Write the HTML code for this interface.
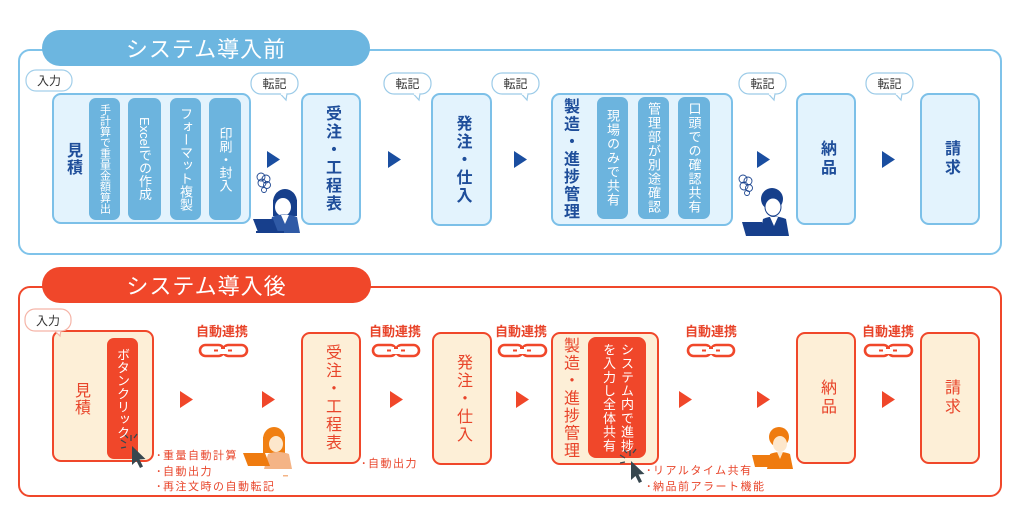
<!DOCTYPE html>
<html><head><meta charset="utf-8">
<style>
*{margin:0;padding:0;box-sizing:border-box}
body{width:1024px;height:512px;background:#fff;overflow:hidden;font-family:"Liberation Sans","Noto Sans CJK JP",sans-serif;}
#c{position:relative;width:1024px;height:512px}
.a{position:absolute}
.fc{position:absolute;display:flex;align-items:center;justify-content:center}
.v{writing-mode:vertical-rl;white-space:nowrap}
.bl{color:#1f4e9a;font-weight:bold;font-size:16px}
.rd{color:#e8442a;font-weight:normal;font-size:16px}
.wt{color:#fff;font-size:13px}
.pill{color:#fff;font-size:22px;letter-spacing:1px}
.bub{font-size:12px;color:#333}
.ren{color:#e8442a;font-weight:bold;font-size:13px;white-space:nowrap}
.bul{color:#e8442a;font-size:11px;letter-spacing:1.5px;line-height:15.5px;white-space:nowrap}
</style></head><body><div id="c">
<svg class="a" style="left:0;top:0" width="1024" height="512" xmlns="http://www.w3.org/2000/svg">
<!-- TOP -->
<rect x="19" y="50" width="982" height="204" rx="11" fill="none" stroke="#7fc3ea" stroke-width="2"/>
<rect x="42" y="30" width="328" height="36" rx="18" fill="#6cb6e0"/>
<g fill="#e3f3fd" stroke="#7cc0e8" stroke-width="2">
<rect x="53" y="94" width="197" height="129" rx="8"/>
<rect x="302" y="94" width="58" height="130" rx="8"/>
<rect x="432" y="94" width="59" height="131" rx="8"/>
<rect x="552" y="94" width="180" height="131" rx="8"/>
<rect x="797" y="94" width="58" height="130" rx="8"/>
<rect x="921" y="94" width="58" height="130" rx="8"/>
</g>
<g fill="#6cb4de">
<rect x="89" y="98" width="31" height="122" rx="7"/>
<rect x="128" y="98" width="33" height="122" rx="7"/>
<rect x="170" y="98" width="31" height="122" rx="7"/>
<rect x="209" y="98" width="32" height="122" rx="7"/>
<rect x="597" y="97" width="31" height="122" rx="7"/>
<rect x="638" y="97" width="31" height="122" rx="7"/>
<rect x="678" y="97" width="32" height="122" rx="7"/>
</g>
<g fill="#1a4ea0">
<polygon points="267,151 280,159.5 267,168"/>
<polygon points="388,151 401,159.5 388,168"/>
<polygon points="514,151 527,159.5 514,168"/>
<polygon points="757,151 770,159.5 757,168"/>
<polygon points="882,151 895,159.5 882,168"/>
</g>
<!-- top bubbles -->
<rect x="26" y="70" width="46" height="21" rx="10" fill="#fff" stroke="#a3cfea" stroke-width="1.2"/>
<g fill="#fff" stroke="#9ccbe8" stroke-width="1.2">
<rect x="251" y="73" width="47" height="21" rx="10"/>
<path d="M280,93.5 L286,100 L287,93.5"/>
<rect x="384" y="73" width="47" height="21" rx="10"/>
<path d="M413,93.5 L419,100 L420,93.5"/>
<rect x="492" y="73" width="47" height="21" rx="10"/>
<path d="M521,93.5 L527,100 L528,93.5"/>
<rect x="739" y="73" width="47" height="21" rx="10"/>
<path d="M768,93.5 L774,100 L775,93.5"/>
<rect x="866" y="73" width="47" height="21" rx="10"/>
<path d="M895,93.5 L901,100 L902,93.5"/>
</g>
<g stroke="#fff" stroke-width="1.6">
<path d="M280.8,94 L286.2,94"/><path d="M413.8,94 L419.2,94"/><path d="M521.8,94 L527.2,94"/><path d="M768.8,94 L774.2,94"/><path d="M895.8,94 L901.2,94"/>
</g>
<!-- top woman -->
<g fill="none" stroke="#1d4690" stroke-width="0.9">
<circle cx="261" cy="177" r="4"/><circle cx="266" cy="179" r="4"/><circle cx="262" cy="183" r="4"/><circle cx="267" cy="185" r="3.5"/><circle cx="264" cy="190" r="2.5"/>
</g>
<rect x="273" y="200" width="24" height="16" fill="#163f8b"/>
<ellipse cx="285" cy="202" rx="12" ry="13" fill="#163f8b"/>
<ellipse cx="283" cy="207" rx="8" ry="9" fill="#fff"/>
<path d="M268,233 L272,217 Q284,212 297,217 L300,233 Z" fill="#2f5aa6"/>
<path d="M281,215 L285,224 L289,215 Z" fill="#fff"/>
<polygon points="253,219 273,219 278,232 258,232" fill="#173f8c"/>
<rect x="256" y="231" width="28" height="2" fill="#173f8c"/>
<!-- top man -->
<g fill="none" stroke="#1d4690" stroke-width="0.9">
<circle cx="743" cy="179" r="4"/><circle cx="748" cy="181" r="4"/><circle cx="744" cy="186" r="4"/><circle cx="749" cy="188" r="3.5"/><circle cx="747" cy="193" r="2.5"/>
</g>
<ellipse cx="772" cy="199" rx="11" ry="11" fill="#163f8b"/>
<ellipse cx="773" cy="207" rx="8" ry="9" fill="#fff" stroke="#163f8b" stroke-width="1"/>
<path d="M760,236 L763,219 Q774,214 786,219 L789,236 Z" fill="#163f8b"/>
<path d="M770,217 L774,226 L778,217 Z" fill="#fff"/>
<polygon points="742,222 762,222 767,236 746,236" fill="#173f8c"/>
<!-- BOTTOM -->
<rect x="19" y="287" width="982" height="209" rx="11" fill="none" stroke="#f0472a" stroke-width="2"/>
<rect x="42" y="267" width="329" height="36" rx="18" fill="#f0472a"/>
<g fill="#fdefd7" stroke="#f0472a" stroke-width="2">
<rect x="53" y="331" width="100" height="130" rx="8"/>
<rect x="302" y="333" width="58" height="130" rx="8"/>
<rect x="433" y="333" width="58" height="131" rx="8"/>
<rect x="552" y="333" width="106" height="131" rx="8"/>
<rect x="797" y="333" width="58" height="130" rx="8"/>
<rect x="921" y="333" width="58" height="130" rx="8"/>
</g>
<rect x="107" y="338" width="31" height="121" rx="7" fill="#f0472a"/>
<rect x="588" y="337" width="58" height="121" rx="8" fill="#f0472a"/>
<g fill="#f0472a">
<polygon points="180,391 193,399.5 180,408"/>
<polygon points="262,391 275,399.5 262,408"/>
<polygon points="390,391 403,399.5 390,408"/>
<polygon points="516,391 529,399.5 516,408"/>
<polygon points="679,391 692,399.5 679,408"/>
<polygon points="757,391 770,399.5 757,408"/>
<polygon points="882,391 895,399.5 882,408"/>
</g>
<!-- bottom 入力 bubble -->
<path d="M54,330 L60,336 L61,330" fill="#fff" stroke="#f5b5a8" stroke-width="1.2"/>
<rect x="25" y="309" width="46" height="22" rx="10" fill="#fff" stroke="#f5b5a8" stroke-width="1.2"/>
<!-- chains -->
<g fill="none" stroke="#f0472a" stroke-width="2.6">
<rect x="200" y="345" width="24" height="11" rx="5.5"/><rect x="223" y="345" width="24" height="11" rx="5.5"/>
<rect x="373" y="345" width="23" height="11" rx="5.5"/><rect x="396" y="345" width="23" height="11" rx="5.5"/>
<rect x="499" y="345" width="24" height="11" rx="5.5"/><rect x="522" y="345" width="24" height="11" rx="5.5"/>
<rect x="688" y="345" width="23" height="11" rx="5.5"/><rect x="711" y="345" width="23" height="11" rx="5.5"/>
<rect x="865" y="345" width="24" height="11" rx="5.5"/><rect x="888" y="345" width="24" height="11" rx="5.5"/>
</g>
<g fill="#fff">
<rect x="214" y="347" width="19" height="7"/><rect x="387" y="347" width="18" height="7"/><rect x="513" y="347" width="19" height="7"/><rect x="702" y="347" width="18" height="7"/><rect x="879" y="347" width="19" height="7"/>
</g>
<g fill="none" stroke="#f0472a" stroke-width="2">
<path d="M214,350.5 h4 M221,348 h4 M228,350.5 h4"/>
<path d="M387,350.5 h4 M394,348 h4 M401,350.5 h4"/>
<path d="M513,350.5 h4 M520,348 h4 M527,350.5 h4"/>
<path d="M702,350.5 h4 M709,348 h4 M716,350.5 h4"/>
<path d="M879,350.5 h4 M886,348 h4 M893,350.5 h4"/>
</g>
<!-- cursors -->
<g stroke="#37474f" stroke-width="1.3">
<path d="M131,441 L131,435 M126,443 L121,440 M128,438 L124,434 M134,438 L137,434 M126,447 L121,448"/>
<path d="M630,456 L630,450 M625,458 L620,455 M627,453 L623,449 M633,453 L636,449 M625,462 L620,463"/>
</g>
<path d="M132,446 L132,465 L136.5,461 L140,468 L143,466.5 L139.5,459.5 L145.5,459 Z" fill="#37474f"/>
<path d="M631,461 L631,480 L635.5,476 L639,483 L642,481.5 L638.5,474.5 L644.5,474 Z" fill="#37474f"/>
<!-- bottom woman -->
<rect x="263" y="437" width="22" height="16" fill="#f07f12"/>
<ellipse cx="274" cy="439" rx="11" ry="12" fill="#f07f12"/>
<ellipse cx="276" cy="444" rx="7" ry="8" fill="#fde7cc"/>
<path d="M264,469 L268,454 Q278,450 289,454 L292,469 Z" fill="#f4b486"/>
<polygon points="243,453 265,453 270,466 248,466" fill="#ef7b0f"/>
<rect x="283" y="475" width="5" height="1.5" fill="#f4b486"/>
<!-- bottom man -->
<ellipse cx="779" cy="437" rx="10" ry="10" fill="#ef7b0f"/>
<ellipse cx="780" cy="444" rx="7" ry="8" fill="#fde7cc"/>
<path d="M767,469 L770,454 Q780,450 790,454 L793,469 Z" fill="#ef7b0f"/>
<path d="M777,452 L780,459 L783,452 Z" fill="#fde7cc"/>
<polygon points="752,455 771,455 775,467 755,467" fill="#ef7b0f"/>
</svg>

<!-- TOP TEXT -->
<div class="fc pill" style="left:42px;top:30px;width:328px;height:36px">システム導入前</div>
<div class="fc bub" style="left:26px;top:70px;width:46px;height:21px">入力</div>
<div class="fc bub" style="left:251px;top:73px;width:47px;height:21px">転記</div>
<div class="fc bub" style="left:384px;top:73px;width:47px;height:21px">転記</div>
<div class="fc bub" style="left:492px;top:73px;width:47px;height:21px">転記</div>
<div class="fc bub" style="left:739px;top:73px;width:47px;height:21px">転記</div>
<div class="fc bub" style="left:866px;top:73px;width:47px;height:21px">転記</div>

<div class="fc" style="left:53px;top:94px;width:38px;height:130px"><span class="v bl" style="letter-spacing:1px">見積</span></div>
<div class="fc" style="left:89px;top:98px;width:31px;height:122px"><span class="v wt" style="font-size:11px">手計算で重量金額算出</span></div>
<div class="fc" style="left:128px;top:98px;width:33px;height:122px"><span class="v wt" style="font-size:13px">Excelでの作成</span></div>
<div class="fc" style="left:170px;top:98px;width:31px;height:122px"><span class="v wt">フォーマット複製</span></div>
<div class="fc" style="left:209px;top:98px;width:32px;height:122px"><span class="v wt">印刷・封入</span></div>
<div class="fc" style="left:302px;top:94px;width:58px;height:130px"><span class="v bl" style="letter-spacing:2px">受注・工程表</span></div>
<div class="fc" style="left:432px;top:94px;width:59px;height:131px"><span class="v bl" style="letter-spacing:2px">発注・仕入</span></div>
<div class="fc" style="left:552px;top:94px;width:34px;height:131px"><span class="v bl" style="letter-spacing:1.5px">製造・進捗管理</span></div>
<div class="fc" style="left:597px;top:97px;width:31px;height:122px"><span class="v wt" style="letter-spacing:1px">現場のみで共有</span></div>
<div class="fc" style="left:638px;top:97px;width:31px;height:122px"><span class="v wt" style="letter-spacing:1px">管理部が別途確認</span></div>
<div class="fc" style="left:678px;top:97px;width:32px;height:122px"><span class="v wt" style="letter-spacing:1px">口頭での確認共有</span></div>
<div class="fc" style="left:797px;top:94px;width:58px;height:130px"><span class="v bl" style="letter-spacing:3px">納品</span></div>
<div class="fc" style="left:921px;top:94px;width:58px;height:130px"><span class="v bl" style="letter-spacing:3px">請求</span></div>

<!-- BOTTOM TEXT -->
<div class="fc pill" style="left:42px;top:267px;width:329px;height:36px">システム導入後</div>
<div class="fc bub" style="left:25px;top:309px;width:46px;height:22px">入力</div>
<div class="fc" style="left:53px;top:331px;width:54px;height:136px"><span class="v rd" style="letter-spacing:1px">見積</span></div>
<div class="fc" style="left:107px;top:338px;width:31px;height:110px"><span class="v wt">ボタンクリック</span></div>
<div class="fc" style="left:302px;top:333px;width:58px;height:130px"><span class="v rd" style="letter-spacing:2px">受注・工程表</span></div>
<div class="fc" style="left:433px;top:333px;width:58px;height:131px"><span class="v rd" style="letter-spacing:2px">発注・仕入</span></div>
<div class="fc" style="left:552px;top:333px;width:34px;height:131px"><span class="v rd" style="letter-spacing:1.5px">製造・進捗管理</span></div>
<div class="fc" style="left:588px;top:337px;width:58px;height:121px"><span class="v wt" style="letter-spacing:0.7px;line-height:18px">システム内で進捗<br>を入力し全体共有</span></div>
<div class="fc" style="left:797px;top:333px;width:58px;height:130px"><span class="v rd" style="letter-spacing:3px">納品</span></div>
<div class="fc" style="left:921px;top:333px;width:58px;height:130px"><span class="v rd" style="letter-spacing:3px">請求</span></div>

<div class="fc ren" style="left:182px;top:322px;width:80px;height:16px">自動連携</div>
<div class="fc ren" style="left:355px;top:322px;width:80px;height:16px">自動連携</div>
<div class="fc ren" style="left:481px;top:322px;width:80px;height:16px">自動連携</div>
<div class="fc ren" style="left:671px;top:322px;width:80px;height:16px">自動連携</div>
<div class="fc ren" style="left:848px;top:322px;width:80px;height:16px">自動連携</div>

<div class="a bul" style="left:156px;top:449px">･重量自動計算<br>･自動出力<br>･再注文時の自動転記</div>
<div class="a bul" style="left:361px;top:457px">･自動出力</div>
<div class="a bul" style="left:646px;top:464px">･リアルタイム共有<br>･納品前アラート機能</div>
</div></body></html>
